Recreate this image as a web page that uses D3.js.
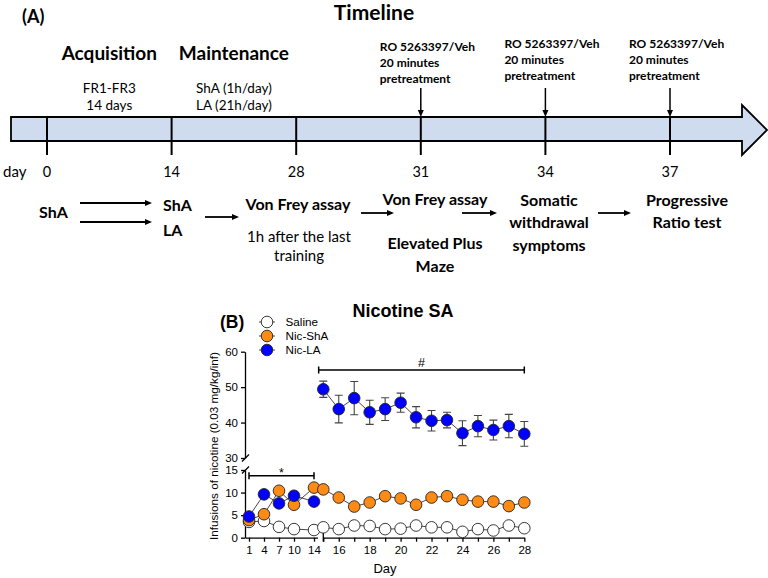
<!DOCTYPE html>
<html>
<head>
<meta charset="utf-8">
<script src="https://cdn.jsdelivr.net/npm/d3@7"></script>
<style>
body { margin: 0; background: #fff; }
</style>
</head>
<body>
<div id="chart"></div>
<script>
// ---- panel A : timeline ----
var timelineDays = ["0", "14", "28", "31", "34", "37"];
var phaseNames = ["Acquisition", "Maintenance"];
var phaseNotes = [["FR1-FR3", "14 days"], ["ShA (1h/day)", "LA (21h/day)"]];
var roDays = ["31", "34", "37"];
var roLines = ["RO 5263397/Veh", "20 minutes", "pretreatment"];

// ---- panel B : nicotine SA ----
var seriesNames = ["Saline", "Nic-ShA", "Nic-LA"];
var seriesColors = ["#ffffff", "#ff8a14", "#0000ff"];
var daysEarly = [1, 4, 7, 10, 14];
var daysLate = [15, 16, 17, 18, 19, 20, 21, 22, 23, 24, 25, 26, 27, 28];
var salineEarly = [3.5, 3.7, 2.4, 1.9, 1.7];
var salineLate = [2.3, 1.9, 2.7, 2.6, 1.9, 2.0, 2.7, 2.3, 2.3, 1.3, 1.9, 1.6, 2.7, 2.1];
var shaEarly = [3.9, 5.2, 10.4, 7.3, 11.1];
var shaLate = [10.7, 8.9, 6.9, 7.8, 9.2, 8.7, 7.3, 8.9, 9.2, 8.4, 8.0, 8.0, 7.0, 7.8];
var laEarly = [4.7, 9.6, 7.6, 9.3, 8.0];
var laLate = [49.4, 43.8, 46.9, 42.9, 43.8, 45.6, 41.5, 40.5, 40.7, 37.0, 39.0, 37.9, 39.0, 36.8];
var laLateSem = [2.3, 3.9, 4.7, 3.4, 3.2, 2.7, 3.0, 2.9, 2.2, 3.5, 3.0, 2.8, 3.3, 3.5];
var yTicksLow = [0, 5, 10, 15];
var yTicksHigh = [30, 40, 50, 60];

var W = 768, H = 578;
var svg = d3.select("#chart").append("svg")
  .attr("width", W)
  .attr("height", H);

var fontA = "Lato, 'Open Sans', sans-serif";
var fontB = "'Liberation Sans', Arial, sans-serif";

function label(x, y, str, size, weight, anchor, family) {
  return svg.append("text")
    .attr("x", x).attr("y", y)
    .attr("font-family", family || fontA)
    .attr("font-size", size)
    .attr("font-weight", weight || "normal")
    .attr("text-anchor", anchor || "start")
    .attr("fill", "#000")
    .text(str);
}

// right pointing arrow
function hArrow(x1, x2, y) {
  svg.append("line").attr("x1", x1).attr("x2", x2 - 5).attr("y1", y).attr("y2", y)
    .attr("stroke", "#000").attr("stroke-width", 1.8);
  svg.append("path").attr("d", "M" + (x2 - 7) + "," + (y - 3) + "L" + x2 + "," + y + "L" + (x2 - 7) + "," + (y + 3) + "Z")
    .attr("fill", "#000");
}

// ===== (A) =====
var xt = d3.scalePoint().domain(timelineDays).range([47, 670]);

label(22, 23, "(A)", 18, "bold");
label(374, 20, "Timeline", 21, "bold", "middle");

phaseNames.forEach(function(p, i) {
  var cx = (xt(timelineDays[i]) + xt(timelineDays[i + 1])) / 2;
  label(cx, 60, p, 19, "bold", "middle");
  phaseNotes[i].forEach(function(n, j) {
    label(cx, 93 + j * 17, n, 13.5, "normal", "middle");
  });
});

// bar with arrow head
svg.append("path")
  .attr("d", "M11,117 L742,117 L742,105 L767,130 L742,155 L742,141 L11,141 Z")
  .attr("fill", "#cfdbef")
  .attr("stroke", "#000")
  .attr("stroke-width", 1.8);

svg.selectAll(".dtick").data(timelineDays).enter().append("line")
  .attr("x1", d => xt(d)).attr("x2", d => xt(d))
  .attr("y1", 117).attr("y2", 155)
  .attr("stroke", "#000").attr("stroke-width", 2);

label(3, 177, "day", 15);
timelineDays.forEach(function(d) {
  label(xt(d), 177, d, 14.5, "normal", "middle");
});

roDays.forEach(function(d, i) {
  var x = xt(d);
  var off = i === 0 ? 0 : -3;
  roLines.forEach(function(t, j) {
    label(x - 41, 51 + off + j * 16, t, 12, "bold");
  });
  svg.append("line").attr("x1", x).attr("x2", x).attr("y1", 88).attr("y2", 111)
    .attr("stroke", "#000").attr("stroke-width", 1.5);
  svg.append("path").attr("d", "M" + (x - 3) + ",110L" + x + ",117L" + (x + 3) + ",110Z").attr("fill", "#000");
});

// bottom row of the timeline
label(39, 218, "ShA", 16, "bold");
hArrow(80, 152, 203);
hArrow(80, 152, 222);
label(163, 210.5, "ShA", 16, "bold");
label(163, 236, "LA", 16, "bold");
hArrow(205, 239, 217);
label(298, 210, "Von Frey assay", 16, "bold", "middle");
label(299, 242, "1h after the last", 15, "normal", "middle");
label(299, 261, "training", 15, "normal", "middle");
hArrow(361, 394, 213);
label(435, 204.5, "Von Frey assay", 16, "bold", "middle");
label(435, 248.5, "Elevated Plus", 16, "bold", "middle");
label(435, 271.5, "Maze", 16, "bold", "middle");
hArrow(462, 497, 213);
label(549, 206, "Somatic", 16, "bold", "middle");
label(549, 228, "withdrawal", 16, "bold", "middle");
label(549, 250.5, "symptoms", 16, "bold", "middle");
hArrow(598, 631, 213);
label(687, 206, "Progressive", 16, "bold", "middle");
label(687, 228, "Ratio test", 16, "bold", "middle");

// ===== (B) =====
var axisX = 245, axisY = 537.7;
var xEarly = d3.scaleLinear().domain([0.2, 14.7]).range([axisX, 317.5]);
var xLate = d3.scaleLinear().domain([15, 28]).range([323.3, 524.3]);
var yLow = d3.scaleLinear().domain([0, 15]).range([axisY, 470]);
var yHigh = d3.scaleLinear().domain([30, 60]).range([458, 351.7]);

label(220, 328, "(B)", 17.5, "bold", "start", fontB);
label(403, 316.5, "Nicotine SA", 18, "bold", "middle", fontB);

function styleAxis(g) {
  g.selectAll("path, line").attr("stroke", "#000").attr("stroke-width", 1.3);
  g.selectAll("text").attr("font-family", fontB).attr("font-size", 11.5).attr("fill", "#000");
}

svg.append("g").attr("transform", "translate(" + axisX + ",0)")
  .call(d3.axisLeft(yLow).tickValues(yTicksLow).tickSize(4).tickSizeOuter(0).tickPadding(3))
  .call(styleAxis);
svg.append("g").attr("transform", "translate(" + axisX + ",0)")
  .call(d3.axisLeft(yHigh).tickValues(yTicksHigh).tickSize(4).tickSizeOuter(0).tickPadding(3))
  .call(styleAxis);

// axis break slashes
[yLow(15), yHigh(30)].forEach(function(y) {
  svg.append("line").attr("x1", axisX - 3).attr("x2", axisX + 4)
    .attr("y1", y + 3.5).attr("y2", y - 3.5)
    .attr("stroke", "#000").attr("stroke-width", 1.3);
});

svg.append("g").attr("transform", "translate(0," + axisY + ")")
  .call(d3.axisBottom(xEarly).tickValues(daysEarly).tickSize(4).tickSizeOuter(0).tickPadding(4))
  .call(styleAxis);
svg.append("g").attr("transform", "translate(0," + axisY + ")")
  .call(d3.axisBottom(xLate).tickValues(daysLate).tickSize(4).tickSizeOuter(0).tickPadding(4)
    .tickFormat(d => d % 2 === 0 ? d : ""))
  .call(styleAxis);
svg.append("line").attr("x1", xLate(15)).attr("x2", xLate(15))
  .attr("y1", axisY - 5).attr("y2", axisY + 4)
  .attr("stroke", "#000").attr("stroke-width", 1.3);

label(385, 573, "Day", 13, "normal", "middle", fontB);
svg.append("text")
  .attr("transform", "translate(214,446) rotate(-90)")
  .attr("text-anchor", "middle")
  .attr("dy", "0.35em")
  .attr("font-family", fontB)
  .attr("font-size", 11.7)
  .text("Infusions of nicotine (0.03 mg/kg/inf)");

// significance brackets
function bracket(x1, x2, y, sym, symY) {
  svg.append("path")
    .attr("d", "M" + x1 + "," + (y - 3.5) + "V" + (y + 3.5) + "M" + x1 + "," + y + "H" + x2 + "M" + x2 + "," + (y - 3.5) + "V" + (y + 3.5))
    .attr("fill", "none").attr("stroke", "#000").attr("stroke-width", 1.5);
  label((x1 + x2) / 2, symY, sym, 12.5, "normal", "middle", fontB);
}
bracket(xEarly(1), xEarly(14), 475.7, "*", 477);
bracket(xLate(14.7), xLate(28), 370, "#", 366.5);

// series
function pts(early, late, yScale, lateScale) {
  var a = early.map((v, i) => ({ x: xEarly(daysEarly[i]), y: yLow(v) }));
  var b = late.map((v, i) => ({ x: xLate(daysLate[i]), y: lateScale(v) }));
  return [a, b];
}
var lineGen = d3.line().x(d => d.x).y(d => d.y);
var r = 5.8;

function drawSeries(pointsList, color, joined, sems) {
  var lines = joined ? [pointsList[0].concat(pointsList[1])] : pointsList;
  lines.forEach(function(p) {
    svg.append("path").attr("d", lineGen(p))
      .attr("fill", "none").attr("stroke", "#333").attr("stroke-width", 0.9);
  });
  if (sems) {
    var g = svg.append("g").attr("stroke", "#444").attr("stroke-width", 1.1).attr("fill", "none");
    daysLate.forEach(function(d, i) {
      var x = xLate(d);
      var y1 = yHigh(laLate[i] + sems[i]), y2 = yHigh(laLate[i] - sems[i]);
      g.append("path").attr("d", "M" + x + "," + y1 + "V" + y2 + "M" + (x - 4) + "," + y1 + "H" + (x + 4) + "M" + (x - 4) + "," + y2 + "H" + (x + 4));
    });
  }
  var all = pointsList[0].concat(pointsList[1]);
  svg.append("g").selectAll("circle").data(all).enter().append("circle")
    .attr("cx", d => d.x).attr("cy", d => d.y).attr("r", r)
    .attr("fill", color).attr("stroke", "#222").attr("stroke-width", 0.9);
}

drawSeries(pts(salineEarly, salineLate, yLow, yLow), seriesColors[0], true);
drawSeries(pts(shaEarly, shaLate, yLow, yLow), seriesColors[1], true);
drawSeries(pts(laEarly, laLate, yLow, yHigh), seriesColors[2], false, laLateSem);

// legend
seriesNames.forEach(function(n, i) {
  var y = 322 + i * 14;
  svg.append("line").attr("x1", 259).attr("x2", 275).attr("y1", y).attr("y2", y)
    .attr("stroke", "#333").attr("stroke-width", 0.9);
  svg.append("circle").attr("cx", 267).attr("cy", y).attr("r", r)
    .attr("fill", seriesColors[i]).attr("stroke", "#222").attr("stroke-width", 0.9);
  label(285.5, y + 4.2, n, 11.7, "normal", "start", fontB);
});
</script>
</body>
</html>
